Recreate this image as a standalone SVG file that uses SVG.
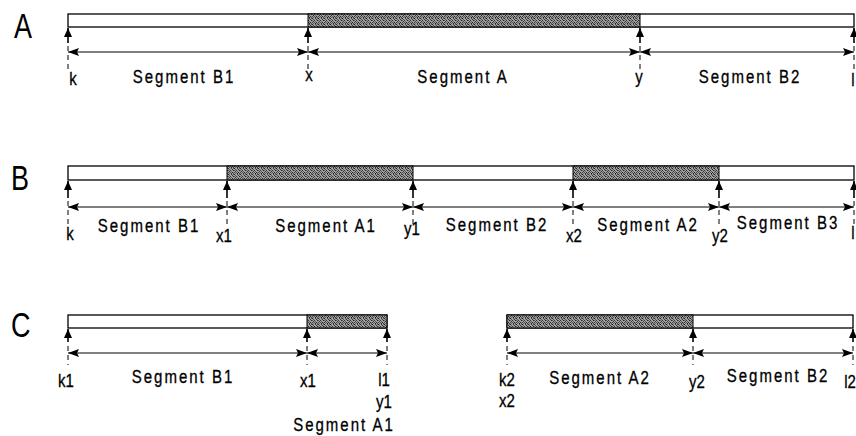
<svg xmlns="http://www.w3.org/2000/svg" width="856" height="436" viewBox="0 0 856 436">
<style>
.bar{fill:#fff;stroke:#000;stroke-width:1.3}
.sh{fill:url(#stip);stroke:#000;stroke-width:1}
.up{stroke:#000;stroke-width:1.6;fill:none;marker-end:url(#ua)}
.dim{stroke:#000;stroke-width:1;fill:none;marker-start:url(#da);marker-end:url(#da)}
.dash{stroke:#000;stroke-width:1;stroke-dasharray:5 4;fill:none}
.t{font-family:"Liberation Sans",Arial,sans-serif;font-size:15px;fill:#000;text-anchor:middle;stroke:#000;stroke-width:0.25}
.seg{letter-spacing:2px}
.big{font-family:"Liberation Sans",Arial,sans-serif;font-size:27px;fill:#000}
</style>
<defs>
<pattern id="stip" width="6" height="6" patternUnits="userSpaceOnUse">
<rect width="6" height="6" fill="#a0a0a0"/>
<rect x="0" y="0" width="1" height="1" fill="#222"/>
<rect x="3" y="0" width="1" height="1" fill="#444"/>
<rect x="5" y="0" width="1" height="1" fill="#666"/>
<rect x="1" y="1" width="1" height="1" fill="#555"/>
<rect x="4" y="1" width="1" height="1" fill="#333"/>
<rect x="2" y="2" width="1" height="1" fill="#333"/>
<rect x="0" y="2" width="1" height="1" fill="#666"/>
<rect x="5" y="2" width="1" height="1" fill="#222"/>
<rect x="1" y="3" width="1" height="1" fill="#333"/>
<rect x="3" y="3" width="1" height="1" fill="#666"/>
<rect x="4" y="4" width="1" height="1" fill="#222"/>
<rect x="0" y="4" width="1" height="1" fill="#444"/>
<rect x="2" y="4" width="1" height="1" fill="#555"/>
<rect x="1" y="5" width="1" height="1" fill="#666"/>
<rect x="3" y="5" width="1" height="1" fill="#222"/>
<rect x="5" y="5" width="1" height="1" fill="#444"/>
</pattern>
<marker id="ua" viewBox="0 0 9 8" refX="9" refY="4" markerWidth="9" markerHeight="8" markerUnits="userSpaceOnUse" orient="auto">
<path d="M0,0 L9,4 L0,8 z" fill="#000"/>
</marker>
<marker id="da" viewBox="0 0 11 8" refX="11" refY="4" markerWidth="11" markerHeight="8" markerUnits="userSpaceOnUse" orient="auto-start-reverse">
<path d="M0,0 L11,4 L0,8 L2,4 z" fill="#000"/>
</marker>
</defs>

<!-- Row A -->
<g id="rowA">
<text class="big" transform="translate(14,38) scale(1,1.3)">A</text>
<rect class="bar" x="68" y="14" width="786" height="13"/>
<rect class="sh" x="308" y="14" width="332" height="13"/>
</g>
<g id="connectorsA">
<line class="up" x1="68" y1="43" x2="68" y2="28"/>
<line class="up" x1="308" y1="43" x2="308" y2="28"/>
<line class="up" x1="640" y1="43" x2="640" y2="28"/>
<line class="up" x1="854" y1="43" x2="854" y2="28"/>
<path class="dash" d="M68,46 V70 M308,46 V70 M640,46 V70 M854,46 V70"/>
<line class="dim" x1="68" y1="52" x2="308" y2="52"/>
<line class="dim" x1="308" y1="52" x2="640" y2="52"/>
<line class="dim" x1="640" y1="52" x2="854" y2="52"/>
</g>
<g id="labelsA">
<text class="t" transform="translate(73,85) scale(1,1.28)">k</text>
<text class="t seg" transform="translate(184,83) scale(1,1.28)">Segment B1</text>
<text class="t" transform="translate(309,81) scale(1,1.28)">x</text>
<text class="t seg" transform="translate(463,83) scale(1,1.28)">Segment A</text>
<text class="t" transform="translate(639,83) scale(1,1.28)">y</text>
<text class="t seg" transform="translate(750,83) scale(1,1.28)">Segment B2</text>
<text class="t" transform="translate(853,86) scale(1,1.28)">l</text>
</g>

<!-- Row B -->
<g id="rowB">
<text class="big" transform="translate(11,190) scale(1,1.3)">B</text>
<rect class="bar" x="68" y="166" width="786" height="14"/>
<rect class="sh" x="227" y="166" width="186" height="14"/>
<rect class="sh" x="573" y="166" width="146" height="14"/>
</g>
<g id="connectorsB">
<line class="up" x1="68" y1="198" x2="68" y2="181"/>
<line class="up" x1="227" y1="198" x2="227" y2="181"/>
<line class="up" x1="413" y1="198" x2="413" y2="181"/>
<line class="up" x1="573" y1="198" x2="573" y2="181"/>
<line class="up" x1="719" y1="198" x2="719" y2="181"/>
<line class="up" x1="854" y1="198" x2="854" y2="181"/>
<path class="dash" d="M68,201 V228 M227,201 V228 M413,201 V228 M573,201 V228 M719,201 V228 M854,201 V228"/>
<line class="dim" x1="68" y1="207" x2="227" y2="207"/>
<line class="dim" x1="227" y1="207" x2="413" y2="207"/>
<line class="dim" x1="413" y1="207" x2="573" y2="207"/>
<line class="dim" x1="573" y1="207" x2="719" y2="207"/>
<line class="dim" x1="719" y1="207" x2="854" y2="207"/>
</g>
<g id="labelsB">
<text class="t" transform="translate(70,240) scale(1,1.28)">k</text>
<text class="t seg" transform="translate(149,232) scale(1,1.28)">Segment B1</text>
<text class="t" transform="translate(224,242) scale(1,1.28)">x1</text>
<text class="t seg" transform="translate(326,232) scale(1,1.28)">Segment A1</text>
<text class="t" transform="translate(412,235) scale(1,1.28)">y1</text>
<text class="t seg" transform="translate(497,231) scale(1,1.28)">Segment B2</text>
<text class="t" transform="translate(574,242) scale(1,1.28)">x2</text>
<text class="t seg" transform="translate(648,231) scale(1,1.28)">Segment A2</text>
<text class="t" transform="translate(720,242) scale(1,1.28)">y2</text>
<text class="t seg" transform="translate(788,229) scale(1,1.28)">Segment B3</text>
<text class="t" transform="translate(853,239) scale(1,1.28)">l</text>
</g>

<!-- Row C -->
<g id="rowC">
<text class="big" transform="translate(11,337) scale(1,1.3)">C</text>
<rect class="bar" x="68" y="315" width="319" height="13"/>
<rect class="sh" x="307" y="315" width="80" height="13"/>
<rect class="bar" x="507" y="315" width="346" height="13"/>
<rect class="sh" x="507" y="315" width="186" height="13"/>
</g>
<g id="connectorsC">
<line class="up" x1="68" y1="342" x2="68" y2="329"/>
<line class="up" x1="307" y1="342" x2="307" y2="329"/>
<line class="up" x1="387" y1="342" x2="387" y2="329"/>
<line class="up" x1="507" y1="342" x2="507" y2="329"/>
<line class="up" x1="693" y1="342" x2="693" y2="329"/>
<line class="up" x1="853" y1="342" x2="853" y2="329"/>
<path class="dash" d="M68,346 V365 M307,346 V365 M387,346 V365 M507,346 V365 M693,346 V365 M853,346 V365"/>
<line class="dim" x1="68" y1="353" x2="307" y2="353"/>
<line class="dim" x1="307" y1="353" x2="387" y2="353"/>
<line class="dim" x1="507" y1="353" x2="693" y2="353"/>
<line class="dim" x1="693" y1="353" x2="853" y2="353"/>
</g>
<g id="labelsC">
<text class="t" transform="translate(66,387) scale(1,1.28)">k1</text>
<text class="t seg" transform="translate(183,383) scale(1,1.28)">Segment B1</text>
<text class="t" transform="translate(308,387) scale(1,1.28)">x1</text>
<text class="t" transform="translate(384,386) scale(1,1.28)">l1</text>
<text class="t" transform="translate(384,408) scale(1,1.28)">y1</text>
<text class="t seg" transform="translate(344,431) scale(1,1.28)">Segment A1</text>
<text class="t" transform="translate(507,386) scale(1,1.28)">k2</text>
<text class="t" transform="translate(507,407) scale(1,1.28)">x2</text>
<text class="t seg" transform="translate(600,384) scale(1,1.28)">Segment A2</text>
<text class="t" transform="translate(697,388) scale(1,1.28)">y2</text>
<text class="t seg" transform="translate(778,382) scale(1,1.28)">Segment B2</text>
<text class="t" transform="translate(850,388) scale(1,1.28)">l2</text>
</g>
</svg>
